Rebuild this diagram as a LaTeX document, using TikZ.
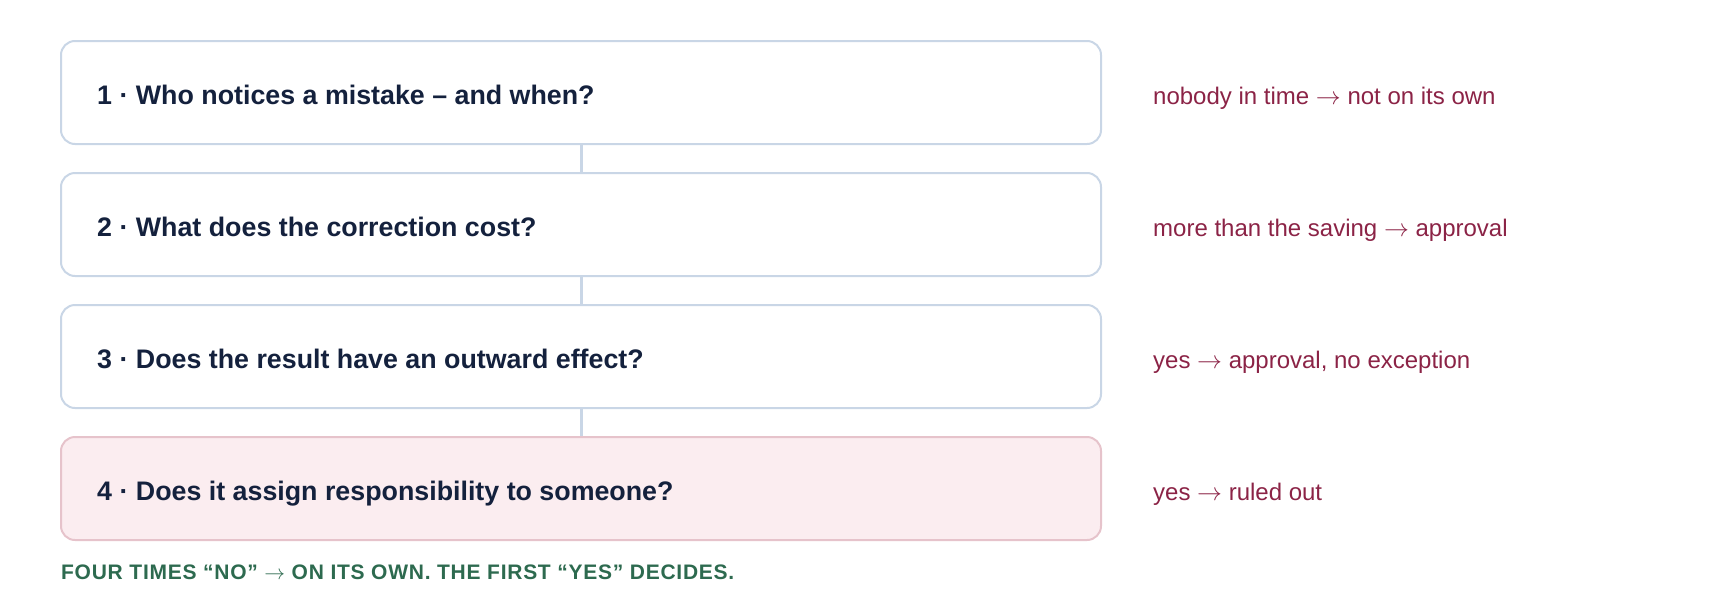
\documentclass[tikz,border=0pt]{standalone}
\usepackage{fontspec}
\setmainfont{Liberation Sans}
\newfontfamily\footfont[LetterSpace=3.5]{Liberation Sans Bold}
\definecolor{boxline}{HTML}{C9D6E6}
\definecolor{navy}{HTML}{14213D}
\definecolor{maroon}{HTML}{8B2346}
\definecolor{hotfill}{HTML}{FBEDF0}
\definecolor{hotline}{HTML}{E6C3CB}
\definecolor{footgreen}{HTML}{2D6A4F}
\newcommand{\arr}{\ensuremath{\rightarrow}}
\begin{document}
\begin{tikzpicture}[x=1pt,y=-1pt,
  qbox/.style={draw=boxline, line width=2pt, fill=white, rounded corners=14pt,
    minimum width=1040pt, minimum height=103pt, anchor=north west, inner sep=0pt},
  hotbox/.style={qbox, draw=hotline, fill=hotfill},
  qtext/.style={anchor=base west, inner sep=0pt, text=navy,
    font=\bfseries\fontsize{26.8}{30}\selectfont},
  atext/.style={anchor=base west, inner sep=0pt, text=maroon,
    font=\fontsize{24}{28}\selectfont},
  foot/.style={anchor=base west, inner sep=0pt, text=footgreen,
    font=\footfont\fontsize{21}{25}\selectfont},
  link/.style={draw=boxline, line width=3pt}]
\useasboundingbox (0,0) rectangle (1720,600);
\node[qbox] (b1) at (60,40) {};
\node[qbox] (b2) at (60,172) {};
\node[qbox] (b3) at (60,304) {};
\node[hotbox] (b4) at (60,436) {};
\draw[link] (b1.south) -- (b2.north);
\draw[link] (b2.south) -- (b3.north);
\draw[link] (b3.south) -- (b4.north);
\node[qtext] (t1) at (97,104) {1 · Who notices a mistake – and when?};
\node[qtext] (t2) at (97,236) {2 · What does the correction cost?};
\node[qtext] (t3) at (97,368) {3 · Does the result have an outward effect?};
\node[qtext] (t4) at (97,500) {4 · Does it assign responsibility to someone?};
\node[atext] (a1) at (1153,104) {nobody in time \arr{} not on its own};
\node[atext] (a2) at (1153,236) {more than the saving \arr{} approval};
\node[atext] (a3) at (1153,368) {yes \arr{} approval, no exception};
\node[atext] (a4) at (1153,500) {yes \arr{} ruled out};
\node[foot] (f) at (61,579) {FOUR TIMES “NO” \arr{} ON ITS OWN. THE FIRST “YES” DECIDES.};
\end{tikzpicture}
\end{document}
